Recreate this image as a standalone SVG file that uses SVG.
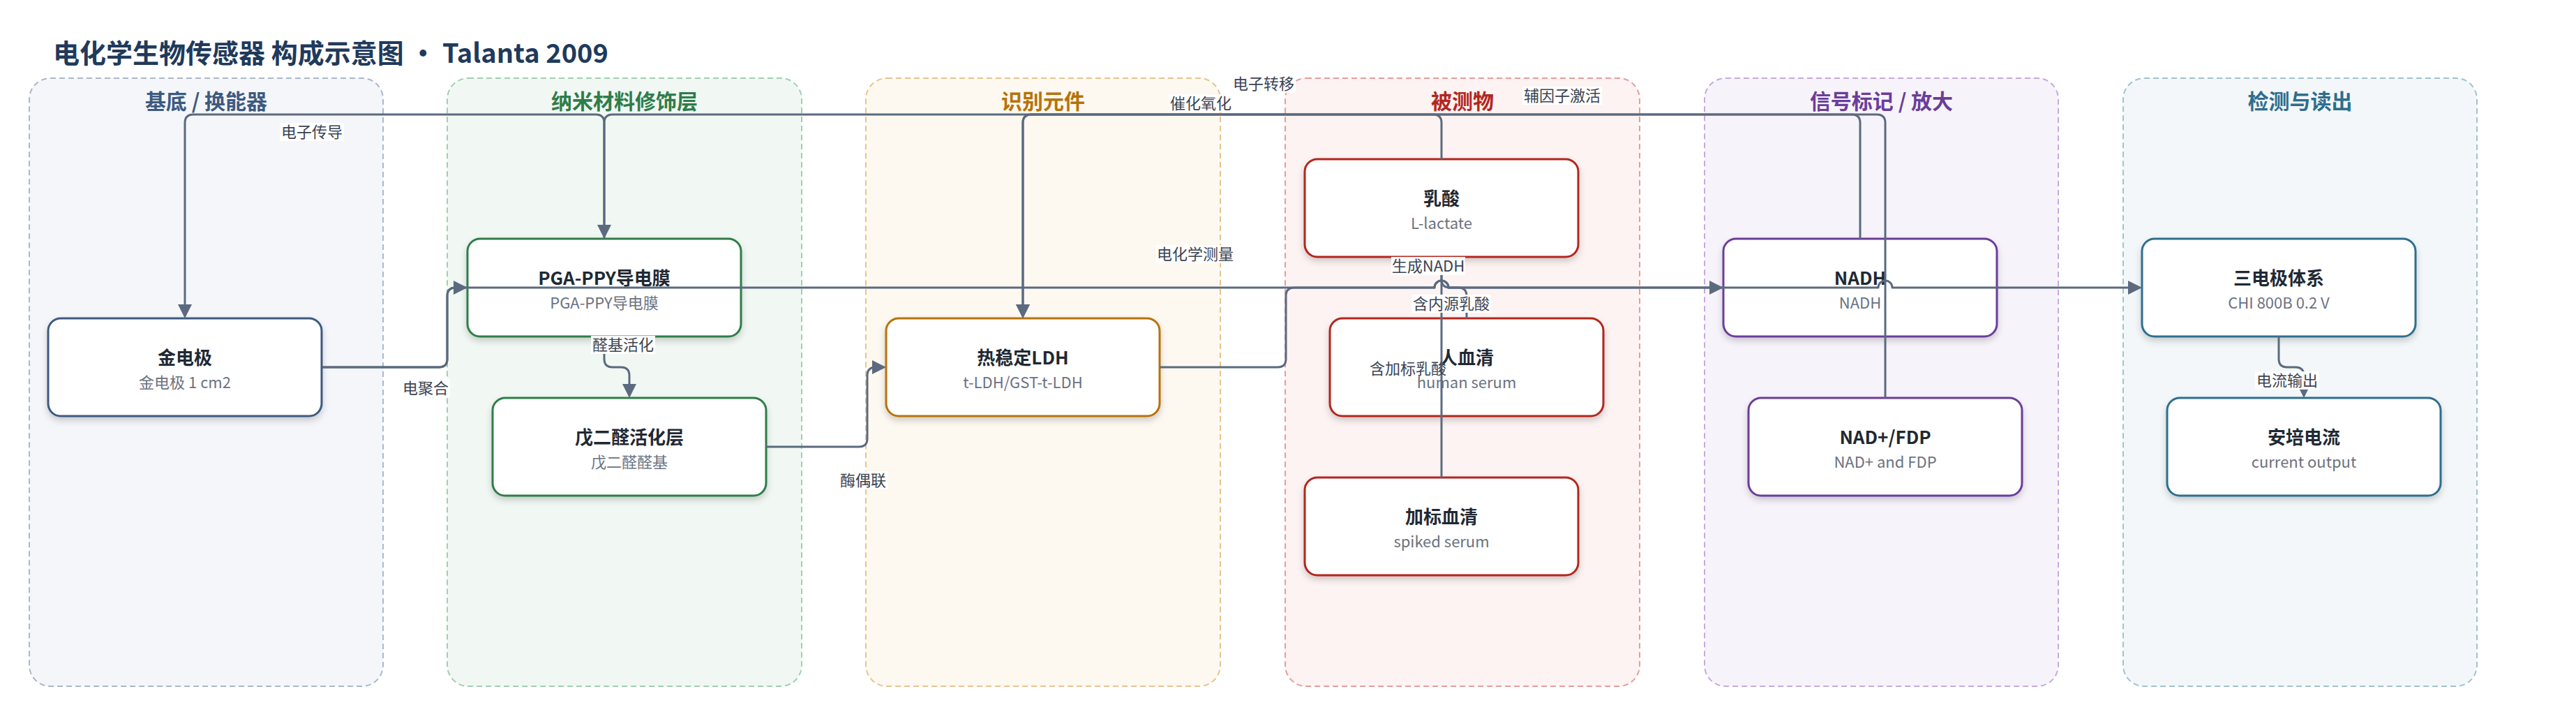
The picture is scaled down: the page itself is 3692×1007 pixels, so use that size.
<svg xmlns="http://www.w3.org/2000/svg" width="3692" height="1007" viewBox="0 0 3692 1007">
<defs>
<filter id="sh" x="-10%" y="-10%" width="120%" height="140%">
<feDropShadow dx="0" dy="5" stdDeviation="5" flood-color="#000" flood-opacity="0.18"/>
</filter>
<marker id="arr" viewBox="0 0 10 10" refX="8.5" refY="5" markerUnits="userSpaceOnUse" markerWidth="20" markerHeight="20" orient="auto">
<path d="M0,0 L10,5 L0,10 z" fill="#5b6a7e"/>
</marker>
</defs>
<style>
text{font-family:'Noto Sans CJK SC','Noto Sans',sans-serif}
.lane{stroke-width:2;stroke-dasharray:8 5}
.lh{font-size:30px;font-weight:700;text-anchor:middle}
.box{fill:#fff;stroke-width:3;filter:url(#sh)}
.t{font-size:26px;font-weight:700;fill:#1f2933;text-anchor:middle}
.s{font-size:22px;fill:#6b7280;text-anchor:middle}
.e{fill:none;stroke:#5b6a7e;stroke-width:3;stroke-linejoin:round}
.ea{marker-end:url(#arr)}
.lb{fill:#fff;fill-opacity:0.95}
.lt{font-size:22px;fill:#3b4452;text-anchor:middle}
</style>
<rect width="3692" height="1007" fill="#fff"/>
<text x="76" y="90" font-size="38" font-weight="700" fill="#1f3a5c">电化学生物传感器 构成示意图 · Talanta 2009</text>

<g id="lanes">
<g id="lane-substrate"><rect class="lane" x="42" y="112" width="507" height="871" rx="30" fill="#f4f6fa" stroke="#aab8ca"/><text class="lh" x="295.5" y="156" fill="#3d5a80">基底 / 换能器</text></g>
<g id="lane-nano"><rect class="lane" x="641" y="112" width="508" height="871" rx="30" fill="#f1f8f3" stroke="#9fd0b0"/><text class="lh" x="895" y="156" fill="#2e7d4a">纳米材料修饰层</text></g>
<g id="lane-recog"><rect class="lane" x="1241" y="112" width="508" height="871" rx="30" fill="#fdf8f0" stroke="#e8c48e"/><text class="lh" x="1495" y="156" fill="#b7720a">识别元件</text></g>
<g id="lane-analyte"><rect class="lane" x="1842" y="112" width="508" height="871" rx="30" fill="#fdf3f3" stroke="#e89c9c"/><text class="lh" x="2096" y="156" fill="#b3261e">被测物</text></g>
<g id="lane-signal"><rect class="lane" x="2443" y="112" width="507" height="871" rx="30" fill="#f7f3fb" stroke="#c6aadf"/><text class="lh" x="2696.5" y="156" fill="#6a3d9a">信号标记 / 放大</text></g>
<g id="lane-readout"><rect class="lane" x="3043" y="112" width="507" height="871" rx="30" fill="#f3f7f9" stroke="#a0c3cf"/><text class="lh" x="3296.5" y="156" fill="#2e6e8e">检测与读出</text></g>
</g>

<g id="n-gold"><rect class="box" x="69" y="456" width="392" height="140" rx="18" stroke="#3d5a80"/><text class="t" x="265" y="522">金电极</text><text class="s" x="265" y="556">金电极 1 cm2</text></g>
<g id="n-pga"><rect class="box" x="670" y="342" width="392" height="140" rx="18" stroke="#2e7d4a"/><text class="t" x="866" y="408">PGA-PPY导电膜</text><text class="s" x="866" y="442">PGA-PPY导电膜</text></g>
<g id="n-glut"><rect class="box" x="706" y="570" width="392" height="140" rx="18" stroke="#2e7d4a"/><text class="t" x="902" y="636">戊二醛活化层</text><text class="s" x="902" y="670">戊二醛醛基</text></g>
<g id="n-ldh"><rect class="box" x="1270" y="456" width="392" height="140" rx="18" stroke="#b7720a"/><text class="t" x="1466" y="522">热稳定LDH</text><text class="s" x="1466" y="556">t-LDH/GST-t-LDH</text></g>
<g id="n-lactate"><rect class="box" x="1870" y="228" width="392" height="140" rx="18" stroke="#b3261e"/><text class="t" x="2066" y="294">乳酸</text><text class="s" x="2066" y="328">L-lactate</text></g>
<g id="n-serum"><rect class="box" x="1906" y="456" width="392" height="140" rx="18" stroke="#b3261e"/><text class="t" x="2102" y="522">人血清</text><text class="s" x="2102" y="556">human serum</text></g>
<g id="n-spiked"><rect class="box" x="1870" y="684" width="392" height="140" rx="18" stroke="#b3261e"/><text class="t" x="2066" y="750">加标血清</text><text class="s" x="2066" y="784">spiked serum</text></g>
<g id="n-nadh"><rect class="box" x="2470" y="342" width="392" height="140" rx="18" stroke="#6a3d9a"/><text class="t" x="2666" y="408">NADH</text><text class="s" x="2666" y="442">NADH</text></g>
<g id="n-nad"><rect class="box" x="2506" y="570" width="392" height="140" rx="18" stroke="#6a3d9a"/><text class="t" x="2702" y="636">NAD+/FDP</text><text class="s" x="2702" y="670">NAD+ and FDP</text></g>
<g id="n-3e"><rect class="box" x="3070" y="342" width="392" height="140" rx="18" stroke="#2e6e8e"/><text class="t" x="3266" y="408">三电极体系</text><text class="s" x="3266" y="442">CHI 800B 0.2 V</text></g>
<g id="n-amp"><rect class="box" x="3106" y="570" width="392" height="140" rx="18" stroke="#2e6e8e"/><text class="t" x="3302" y="636">安培电流</text><text class="s" x="3302" y="670">current output</text></g>

<g id="connectors">
<path class="e ea" d="M462,526 H629 Q641,526 641,514 V424 Q641,412 653,412 H667"/>
<path class="e ea" d="M866,482 V514 Q866,526 878,526 H890 Q902,526 902,538 V567"/>
<path class="e ea" d="M1098,640 H1231 Q1243,640 1243,628 V538 Q1243,526 1255,526 H1267"/>
<path class="e ea" d="M2066,228 V176 Q2066,164 2054,164 H1478 Q1466,164 1466,176 V453"/>
<path class="e ea" d="M1662,526 H1831 Q1843,526 1843,514 V424 Q1843,412 1855,412 H2056 A10,10 0 0 1 2076,412 H2467"/>
<path class="e ea" d="M2666,342 V176 Q2666,164 2654,164 H878 Q866,164 866,176 V339"/>
<path class="e ea" d="M866,342 V176 Q866,164 854,164 H277 Q265,164 265,176 V453"/>
<path class="e ea" d="M462,526 H629 Q641,526 641,514 V424 Q641,412 653,412 H2056 A10,10 0 0 1 2076,412 H2692 A10,10 0 0 1 2712,412 H3067"/>
<path class="e ea" d="M3266,482 V514 Q3266,526 3278,526 H3290 Q3302,526 3302,538 V567"/>
<path class="e ea" d="M2702,570 V176 Q2702,164 2690,164 H1478 Q1466,164 1466,176 V453"/>
<path class="e ea" d="M2102,456 V424 Q2102,412 2090,412 H2078 Q2066,412 2066,400 V371"/>
<path class="e ea" d="M2066,684 V371"/>
</g>

<g id="edge-labels">
<rect class="lb" x="401" y="176" width="92" height="26"/><text class="lt" x="447" y="197">电子传导</text>
<rect class="lb" x="575" y="543" width="70" height="26"/><text class="lt" x="610" y="564">电聚合</text>
<rect class="lb" x="847" y="481" width="92" height="26"/><text class="lt" x="893" y="502">醛基活化</text>
<rect class="lb" x="1202" y="675" width="70" height="26"/><text class="lt" x="1237" y="696">酶偶联</text>
<rect class="lb" x="1675" y="135" width="92" height="26"/><text class="lt" x="1721" y="156">催化氧化</text>
<rect class="lb" x="1765" y="107" width="92" height="26"/><text class="lt" x="1811" y="128">电子转移</text>
<rect class="lb" x="1656" y="351" width="114" height="26"/><text class="lt" x="1713" y="372">电化学测量</text>
<rect class="lb" x="1994" y="368" width="106" height="26"/><text class="lt" x="2047" y="389">生成NADH</text>
<rect class="lb" x="2182" y="124" width="114" height="26"/><text class="lt" x="2239" y="145">辅因子激活</text>
<rect class="lb" x="2023" y="422" width="114" height="26"/><text class="lt" x="2080" y="443">含内源乳酸</text>
<text class="lt" x="2018" y="536">含加标乳酸</text>
<rect class="lb" x="3232" y="532" width="92" height="26"/><text class="lt" x="3278" y="553">电流输出</text>
</g>
</svg>
